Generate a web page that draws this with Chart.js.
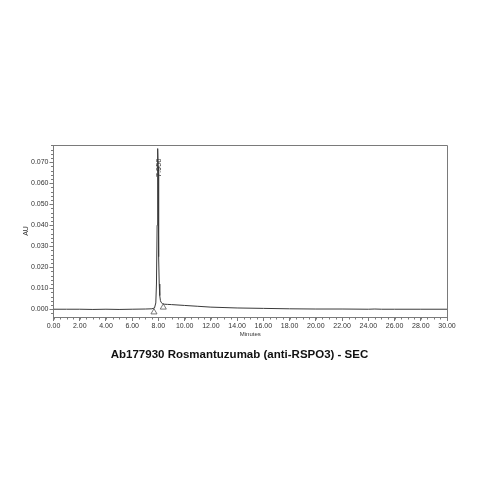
<!DOCTYPE html>
<html>
<head>
<meta charset="utf-8">
<script src="https://cdn.jsdelivr.net/npm/chart.js@4/dist/chart.umd.min.js"></script>
<style>
  html, body { margin: 0; padding: 0; background: #ffffff; }
  #wrap { width: 479px; height: 479px; }
</style>
</head>
<body>
<div id="wrap"><canvas id="c" width="479" height="479"></canvas></div>
<script>
// ---- data ----
const timeMin = [0, 1, 2, 3, 4, 5, 6, 7, 7.5, 7.7, 7.8, 7.85, 7.9, 7.93, 7.956, 7.98, 8.0, 8.03, 8.06, 8.1, 8.15, 8.2, 8.3, 8.45, 8.7, 9, 10, 11, 12, 13, 14, 16, 18, 20, 22, 24, 24.5, 25, 26, 28, 30];
const absAU   = [0, 0, 0, -0.0001, 0, -0.0001, 0, 0.0001, 0.0002, 0.0006, 0.003, 0.012, 0.040, 0.068, 0.0765, 0.068, 0.048, 0.025, 0.012, 0.0065, 0.0042, 0.0033, 0.0027, 0.0024, 0.0023, 0.0022, 0.0018, 0.0014, 0.0010, 0.0008, 0.0006, 0.0004, 0.0002, 0.0001, 0.0001, 0.0000, 0.0001, 0.0000, 0, 0, 0];
const markerTime = [7.66, 8.37];
const markerAU   = [-0.0014, 0.0009];
const peakLabel = "7.956";
const peakTime = 7.956;
const peakLabelAU = 0.0673;
const xMajorTicks = [0, 2, 4, 6, 8, 10, 12, 14, 16, 18, 20, 22, 24, 26, 28, 30];
const yMajorTicks = [0, 0.01, 0.02, 0.03, 0.04, 0.05, 0.06, 0.07];
const xMinorStep = 0.5;
const yMinorStep = 0.002;
const titleText = "Ab177930 Rosmantuzumab (anti-RSPO3) - SEC";
const xTitle = "Minutes";
const yTitle = "AU";

const axisColor = '#7a7a7a';
const textColor = '#333333';
const FONT = '"Liberation Sans", Arial, sans-serif';

const extras = {
  id: 'extras',
  afterDraw(chart) {
    const ctx = chart.ctx;
    const a = chart.chartArea;
    const xs = chart.scales.x, ys = chart.scales.y;
    ctx.save();
    // frame top / right
    ctx.strokeStyle = axisColor;
    ctx.lineWidth = 1;
    ctx.beginPath();
    ctx.moveTo(a.left, a.top + 0.5);
    ctx.lineTo(a.right + 0.5, a.top + 0.5);
    ctx.lineTo(a.right + 0.5, a.bottom);
    ctx.stroke();
    // minor ticks
    ctx.beginPath();
    for (let v = xs.min; v <= xs.max + 1e-9; v += xMinorStep) {
      const px = Math.round(xs.getPixelForValue(v)) + 0.5;
      ctx.moveTo(px, a.bottom);
      ctx.lineTo(px, a.bottom + 2.5);
    }
    for (let v = 0; v <= ys.max + 1e-9; v += yMinorStep) {
      const py = Math.round(ys.getPixelForValue(v)) + 0.5;
      ctx.moveTo(a.left, py);
      ctx.lineTo(a.left - 2.5, py);
    }
    for (let v = -yMinorStep; v >= ys.min; v -= yMinorStep) {
      const py = Math.round(ys.getPixelForValue(v)) + 0.5;
      ctx.moveTo(a.left, py);
      ctx.lineTo(a.left - 2.5, py);
    }
    ctx.stroke();
    // chart title (centred on the page)
    ctx.fillStyle = '#111111';
    ctx.font = 'bold 11.5px ' + FONT;
    ctx.textAlign = 'center';
    ctx.textBaseline = 'middle';
    ctx.fillText(titleText, chart.width / 2, 355);
    // peak label
    const lx = xs.getPixelForValue(peakTime);
    const ly = ys.getPixelForValue(peakLabelAU);
    ctx.translate(lx + 1, ly);
    ctx.rotate(-Math.PI / 2);
    ctx.fillStyle = textColor;
    ctx.font = '7.5px ' + FONT;
    ctx.fillText(peakLabel, 0, 0);
    ctx.restore();
  }
};

new Chart(document.getElementById('c'), {
  type: 'scatter',
  data: {
    datasets: [
      {
        data: timeMin.map((t, i) => ({ x: t, y: absAU[i] })),
        showLine: true,
        borderColor: '#3a3a3a',
        borderWidth: 1,
        pointRadius: 0,
        tension: 0
      },
      {
        data: markerTime.map((t, i) => ({ x: t, y: markerAU[i] })),
        showLine: false,
        pointStyle: 'triangle',
        pointRadius: 3.5,
        backgroundColor: '#ffffff',
        borderColor: '#555555',
        borderWidth: 0.8
      }
    ]
  },
  options: {
    responsive: false,
    animation: false,
    devicePixelRatio: 1,
    layout: { padding: { left: 0, right: 32, top: 145, bottom: 139 } },
    plugins: {
      legend: { display: false },
      tooltip: { enabled: false },
      title: { display: false }
    },
    scales: {
      x: {
        type: 'linear',
        min: 0, max: 30,
        afterBuildTicks(s) { s.ticks = xMajorTicks.map(v => ({ value: v })); },
        afterFit(s) { s.height = 23; },
        ticks: {
          color: textColor,
          font: { family: FONT, size: 7 },
          padding: 1,
          maxRotation: 0,
          autoSkip: false,
          callback: v => Number(v).toFixed(2)
        },
        grid: { drawOnChartArea: false, tickLength: 4, color: axisColor, tickColor: axisColor },
        border: { color: axisColor, width: 1 },
        title: {
          display: true,
          text: xTitle,
          color: textColor,
          font: { family: FONT, size: 6 },
          padding: { top: 0, bottom: 2 }
        }
      },
      y: {
        type: 'linear',
        min: -0.0037, max: 0.0782,
        afterBuildTicks(s) { s.ticks = yMajorTicks.map(v => ({ value: v })); },
        afterFit(s) { s.width = 53.5; },
        ticks: {
          color: textColor,
          font: { family: FONT, size: 7 },
          padding: 1,
          autoSkip: false,
          callback: v => Number(v).toFixed(3)
        },
        grid: { drawOnChartArea: false, tickLength: 4, color: axisColor, tickColor: axisColor },
        border: { color: axisColor, width: 1 },
        title: {
          display: true,
          text: yTitle,
          color: textColor,
          font: { family: FONT, size: 7 },
          padding: { top: 22, bottom: 0 }
        }
      }
    }
  },
  plugins: [extras]
});
</script>
</body>
</html>
